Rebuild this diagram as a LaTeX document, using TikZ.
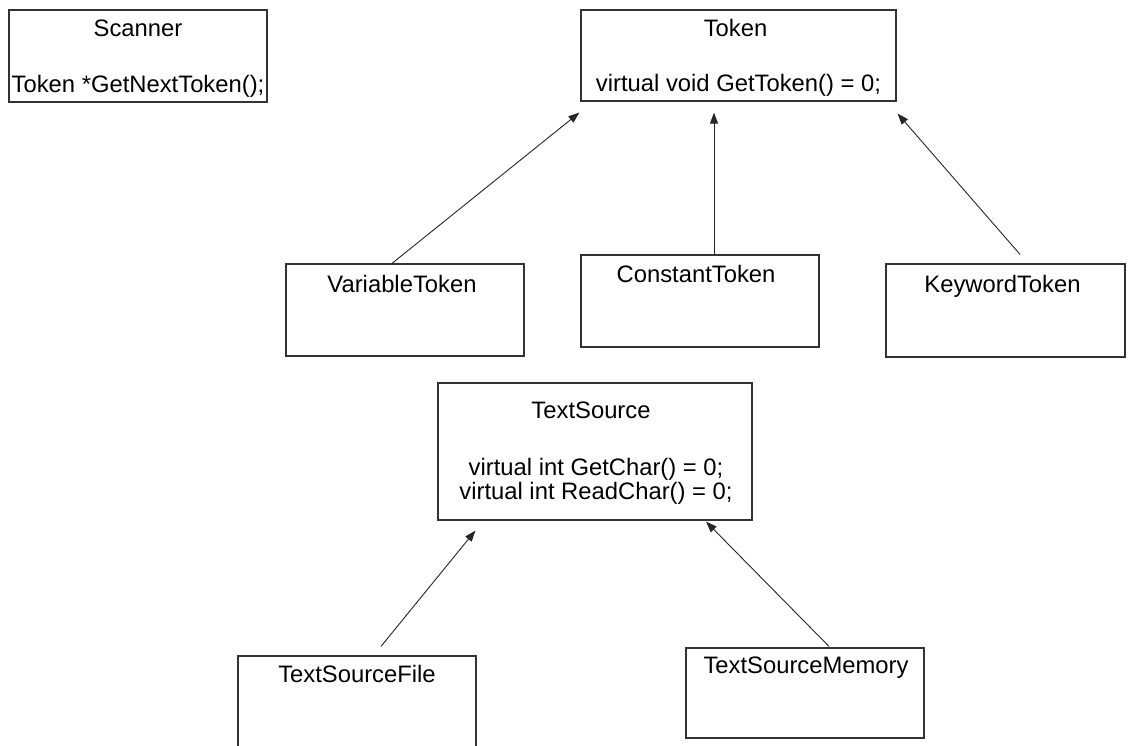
\documentclass[tikz,border=0pt]{standalone}
\usepackage{fontspec}
\setmainfont{Liberation Sans}
\usetikzlibrary{arrows.meta,calc}
\begin{document}
\begin{tikzpicture}[x=1pt,y=-1pt,
  classbox/.style={draw=black!80, line width=1.2pt, inner sep=0pt, fill=white},
  lbl/.style={font=\fontsize{23.8}{24}\selectfont, anchor=base, inner sep=0pt},
  inherit/.style={draw=black!85, line width=0.9pt, -{Triangle[length=11pt,width=8pt]}}
]
\clip (0,0) rectangle (1128,745);
\fill[white] (0,0) rectangle (1128,745);

% class boxes
\node[classbox, minimum width=258pt, minimum height=92pt] (scanner) at (138,56) {};
\node[classbox, minimum width=315pt, minimum height=91pt] (token) at (738.5,55.5) {};
\node[classbox, minimum width=238pt, minimum height=92pt] (vt) at (405,310) {};
\node[classbox, minimum width=238pt, minimum height=92pt] (ct) at (700,301) {};
\node[classbox, minimum width=239pt, minimum height=93pt] (kt) at (1005.5,310.5) {};
\node[classbox, minimum width=314pt, minimum height=137pt] (ts) at (595,451.5) {};
\node[classbox, minimum width=238pt, minimum height=92pt] (tsf) at (357,702) {};
\node[classbox, minimum width=238pt, minimum height=90pt] (tsm) at (805,693) {};

% class names and members
\node[lbl] (scanner-name) at ($(scanner.north)+(0,27)$) {Scanner};
\node[lbl] (scanner-op) at ($(scanner.north)+(0,83)$) {Token *GetNextToken();};
\node[lbl] (token-name) at ($(token.north)+(-3,27)$) {Token};
\node[lbl] (token-op) at ($(token.north)+(0,82)$) {virtual void GetToken() = 0;};
\node[lbl] (vt-name) at ($(vt.north)+(-3,29)$) {VariableToken};
\node[lbl] (ct-name) at ($(ct.north)+(-4,28)$) {ConstantToken};
\node[lbl] (kt-name) at ($(kt.north)+(-3,29)$) {KeywordToken};
\node[lbl] (ts-name) at ($(ts.north)+(-4,36)$) {TextSource};
\node[lbl] (ts-op1) at ($(ts.north)+(1,93)$) {virtual int GetChar() = 0;};
\node[lbl] (ts-op2) at ($(ts.north)+(1,117)$) {virtual int ReadChar() = 0;};
\node[lbl] (tsf-name) at ($(tsf.north)+(0,27)$) {TextSourceFile};
\node[lbl] (tsm-name) at ($(tsm.north)+(1,26)$) {TextSourceMemory};

% connector end points
\coordinate (vt-up) at ($(vt.north)+(-13,0)$);
\coordinate (vt-tip) at ($(token.south west)+(-1,11)$);
\coordinate (ct-up) at ($(ct.north)+(14,0)$);
\coordinate (ct-tip) at ($(token.south)+(-24.5,11)$);
\coordinate (kt-up) at ($(kt.north)+(14.5,-9)$);
\coordinate (kt-tip) at ($(token.south east)+(1,12)$);
\coordinate (tsf-up) at ($(tsf.north)+(24,-9)$);
\coordinate (tsf-tip) at ($(ts.south west)+(38,10)$);
\coordinate (tsm-up) at ($(tsm.north)+(24,-1)$);
\coordinate (tsm-tip) at ($(ts.south)+(111,1)$);

% inheritance arrows
\draw[inherit] (vt-up) -- (vt-tip);
\draw[inherit] (ct-up) -- (ct-tip);
\draw[inherit] (kt-up) -- (kt-tip);
\draw[inherit] (tsf-up) -- (tsf-tip);
\draw[inherit] (tsm-up) -- (tsm-tip);
\end{tikzpicture}
\end{document}
